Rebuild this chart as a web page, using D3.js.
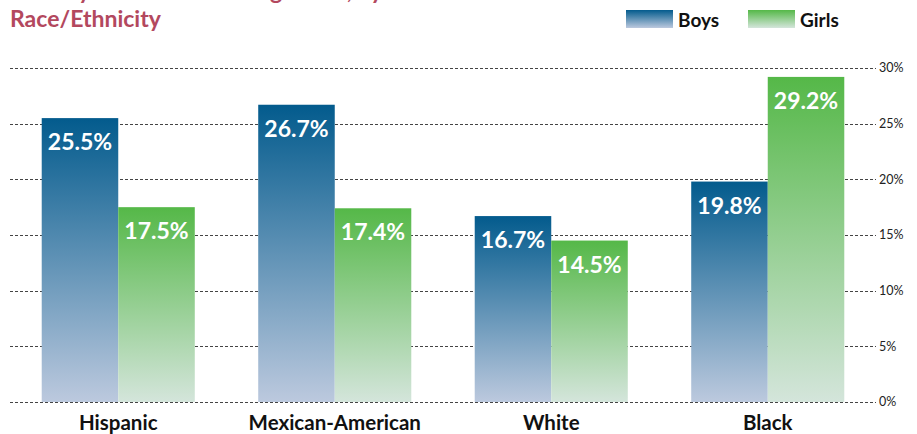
<!DOCTYPE html>
<html>
<head>
<meta charset="utf-8">
<script src="https://cdn.jsdelivr.net/npm/d3@7"></script>
<style>
  body { margin: 0; background: #fff; }
  svg { display: block; font-family: Lato, "Liberation Sans", sans-serif; }
</style>
</head>
<body>
<div id="chart"></div>
<script>
// ---- data ----
const categories = ["Hispanic", "Mexican-American", "White", "Black"];
const series = ["Boys", "Girls"];
const boys = [25.5, 26.7, 16.7, 19.8];
const girls = [17.5, 17.4, 14.5, 29.2];
const yTicks = [0, 5, 10, 15, 20, 25, 30];

const width = 917, height = 434;

const svg = d3.select("#chart").append("svg")
    .attr("width", width)
    .attr("height", height);

// gradients, one per series, stretched over each bar
const defs = svg.append("defs");
const grads = {
    Boys: ["#035b8d", "#bcc9de"],
    Girls: ["#55b848", "#d4e5db"]
};
series.forEach(s => {
    const g = defs.append("linearGradient")
        .attr("id", "grad-" + s)
        .attr("x1", 0).attr("y1", 0).attr("x2", 0).attr("y2", 1);
    g.append("stop").attr("offset", "0%").attr("stop-color", grads[s][0]);
    g.append("stop").attr("offset", "100%").attr("stop-color", grads[s][1]);
});

// title (first line runs off the top of the picture, as in the original)
svg.append("text")
    .attr("x", 10).attr("y", -1)
    .attr("fill", "#b3485e")
    .attr("font-size", 23).attr("font-weight", "bold")
    .text("Obesity Prevalence among Youth, by Gender and");
svg.append("text")
    .attr("x", 10).attr("y", 27)
    .attr("fill", "#b3485e")
    .attr("font-size", 23).attr("font-weight", "bold")
    .text("Race/Ethnicity");

// scales
const x0 = d3.scaleBand()
    .domain(categories)
    .range([10, 876])
    .paddingInner(0.293)
    .paddingOuter(0.1465);

const x1 = d3.scaleBand()
    .domain(series)
    .range([0, x0.bandwidth()]);

const y = d3.scaleLinear()
    .domain([0, 30])
    .range([402, 68]);

// gridlines + tick labels
const grid = svg.append("g");
grid.selectAll("line")
    .data(yTicks)
    .join("line")
    .attr("x1", 10).attr("x2", 876)
    .attr("y1", d => Math.round(y(d)) + 0.5)
    .attr("y2", d => Math.round(y(d)) + 0.5)
    .attr("stroke", "#444")
    .attr("stroke-width", 1)
    .attr("stroke-dasharray", "3,2");
grid.selectAll("text")
    .data(yTicks)
    .join("text")
    .attr("x", 879)
    .attr("y", d => y(d))
    .attr("dy", "0.35em")
    .attr("font-size", 12.5)
    .attr("fill", "#222")
    .text(d => d + "%");

// bars
const rows = categories.map((c, i) => ({ cat: c, values: [
    { s: "Boys", v: boys[i] },
    { s: "Girls", v: girls[i] }
]}));

const groups = svg.append("g").selectAll("g")
    .data(rows)
    .join("g")
    .attr("transform", d => `translate(${x0(d.cat)},0)`);

groups.selectAll("rect")
    .data(d => d.values)
    .join("rect")
    .attr("x", d => x1(d.s))
    .attr("y", d => y(d.v))
    .attr("width", x1.bandwidth())
    .attr("height", d => y(0) - y(d.v))
    .attr("fill", d => `url(#grad-${d.s})`);

groups.selectAll("text.val")
    .data(d => d.values)
    .join("text")
    .attr("class", "val")
    .attr("x", d => x1(d.s) + x1.bandwidth() / 2)
    .attr("y", d => y(d.v) + 32)
    .attr("text-anchor", "middle")
    .attr("fill", "#fff")
    .attr("font-size", 23)
    .attr("font-weight", "bold")
    .text(d => d.v.toFixed(1) + "%");

// category labels
svg.append("g").selectAll("text")
    .data(categories)
    .join("text")
    .attr("x", d => x0(d) + x0.bandwidth() / 2)
    .attr("y", 430)
    .attr("text-anchor", "middle")
    .attr("font-size", 20.5)
    .attr("font-weight", "bold")
    .attr("fill", "#111")
    .text(d => d);

// legend
const legend = svg.append("g").selectAll("g")
    .data(series)
    .join("g")
    .attr("transform", (d, i) => `translate(${626 + i * 122},10)`);
legend.append("rect")
    .attr("width", 47).attr("height", 18)
    .attr("fill", d => `url(#grad-${d})`);
legend.append("text")
    .attr("x", 52).attr("y", 17)
    .attr("font-size", 19)
    .attr("font-weight", "bold")
    .attr("fill", "#111")
    .text(d => d);
</script>
</body>
</html>
